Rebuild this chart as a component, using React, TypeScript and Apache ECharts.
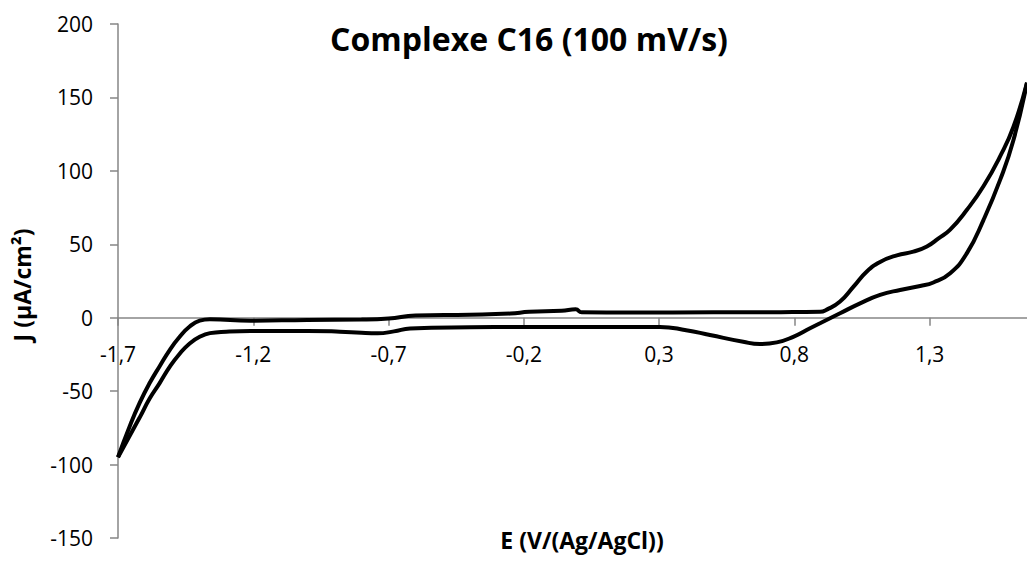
import React, { useEffect, useRef } from "react";
import * as echarts from "echarts";

// Upper (outer) branch of the voltammogram: [E (V), J (µA/cm²)]
const branchUpperE = [
  -1.7, -1.657, -1.62, -1.583, -1.546, -1.509, -1.472, -1.435, -1.398, -1.36,
  -1.21, -1.0, -0.8, -0.7, -0.6, -0.4, -0.25, -0.18, -0.06, -0.008, 0.014,
  0.2, 0.5, 0.75, 0.895, 0.92, 0.969, 1.018, 1.068, 1.117, 1.179, 1.24, 1.29,
  1.333, 1.376, 1.438, 1.499, 1.561, 1.61, 1.66,
];
const branchUpperJ = [
  -95, -74, -58, -44.5, -33, -22, -13, -6, -2, -1,
  -2, -1.5, -1.3, -0.6, 1.5, 2, 2.8, 4, 4.7, 5.7, 3.7,
  3.6, 3.7, 3.8, 4, 5.5, 11, 21, 31.5, 38, 42.5, 45, 48.5,
  54, 60, 73.5, 89.5, 110, 130, 160,
];

// Lower (inner) branch of the voltammogram
const branchLowerE = [
  -1.7, -1.62, -1.583, -1.546, -1.509, -1.472, -1.435, -1.398, -1.36, -1.3,
  -1.21, -1.0, -0.88, -0.8, -0.74, -0.68, -0.62, -0.4, -0.214, 0.0, 0.303,
  0.4, 0.488, 0.611, 0.673, 0.735, 0.796, 0.858, 0.895, 0.969, 1.043, 1.117,
  1.191, 1.265, 1.314, 1.376, 1.438, 1.499, 1.561, 1.61, 1.66,
];
const branchLowerJ = [
  -95, -68, -55, -44.5, -33.5, -24.5, -17.5, -13, -10.5, -9.5,
  -9, -9, -9.5, -10.3, -10.6, -9.3, -7.3, -6.5, -6.3, -6.3, -6.3,
  -8.5, -11.8, -16.4, -17.9, -16.8, -13, -7.2, -3.8, 3, 9.8, 15.5,
  18.9, 21.6, 24, 30.3, 44, 66.5, 94, 121, 160,
];

const xTicks = [-1.7, -1.2, -0.7, -0.2, 0.3, 0.8, 1.3];
const xMin = -1.7;
const xMax = 1.66;
const yMin = -150;
const yMax = 200;
const yStep = 50;

const titleText = "Complexe C16 (100 mV/s)";
const xName = "E (V/(Ag/AgCl))";
const yName = "J (µA/cm²)";

const FONT = "'Open Sans', 'Noto Sans', sans-serif";

const GRID_TOP = 24;
const GRID_BOTTOM = 34;
const CHART_H = 572;

export default function App() {
  const ref = useRef<HTMLDivElement>(null);

  useEffect(() => {
    if (!ref.current) return;
    const chart = echarts.init(ref.current, null, { renderer: "svg" });
    const up = branchUpperE.map((e, i) => [e, branchUpperJ[i]]);
    const low = branchLowerE.map((e, i) => [e, branchLowerJ[i]]);
    const axisColor = "#868686";
    // distance from the grid bottom up to the J = 0 line, so the x axis sits on zero
    const plotH = CHART_H - GRID_TOP - GRID_BOTTOM;
    const zeroOffset = -plotH * (0 - yMin) / (yMax - yMin);
    chart.setOption({
      animation: false,
      backgroundColor: "#ffffff",
      title: {
        text: titleText,
        left: 524,
        top: 17,
        textAlign: "center",
        textStyle: {
          fontFamily: FONT,
          fontWeight: "bold",
          fontSize: 32,
          color: "#000",
        },
      },
      grid: {
        left: 118,
        right: 0,
        top: GRID_TOP,
        bottom: GRID_BOTTOM,
        containLabel: false,
        outerBoundsMode: "none",
      },
      xAxis: {
        type: "value",
        min: xMin,
        max: xMax,
        position: "bottom",
        offset: zeroOffset,
        splitLine: { show: false },
        axisLine: { onZero: false, lineStyle: { color: axisColor, width: 1.5 } },
        axisTick: {
          show: true,
          length: 8,
          customValues: xTicks,
          lineStyle: { color: axisColor, width: 1.5 },
        },
        axisLabel: {
          customValues: xTicks,
          margin: 26,
          fontFamily: FONT,
          fontSize: 21,
          color: "#000",
          formatter: (v: number) => v.toFixed(1).replace(".", ","),
        },
      },
      yAxis: {
        type: "value",
        min: yMin,
        max: yMax,
        interval: yStep,
        splitLine: { show: false },
        axisLine: { show: true, onZero: false, lineStyle: { color: axisColor, width: 1.5 } },
        axisTick: { show: true, length: 8, lineStyle: { color: axisColor, width: 1.5 } },
        axisLabel: {
          margin: 25,
          fontFamily: FONT,
          fontSize: 21,
          color: "#000",
        },
      },
      graphic: [
        {
          type: "text",
          x: 582,
          y: 540,
          style: {
            text: xName,
            fontFamily: FONT,
            fontWeight: "bold",
            fontSize: 23,
            fill: "#000",
            textAlign: "center",
            textVerticalAlign: "middle",
          },
        },
        {
          type: "text",
          x: 22,
          y: 285,
          rotation: Math.PI / 2,
          style: {
            text: yName,
            fontFamily: FONT,
            fontWeight: "bold",
            fontSize: 23,
            fill: "#000",
            textAlign: "center",
            textVerticalAlign: "middle",
          },
        },
      ],
      series: [
        {
          type: "line",
          name: "upper",
          data: up,
          smooth: 0.5,
          showSymbol: false,
          lineStyle: { color: "#000", width: 4 },
        },
        {
          type: "line",
          name: "lower",
          data: low,
          smooth: 0.5,
          showSymbol: false,
          lineStyle: { color: "#000", width: 4 },
        },
      ],
    });
    return () => chart.dispose();
  }, []);

  return (
    <div
      ref={ref}
      style={{ position: "fixed", left: 0, top: 0, width: 1027, height: CHART_H }}
    />
  );
}
